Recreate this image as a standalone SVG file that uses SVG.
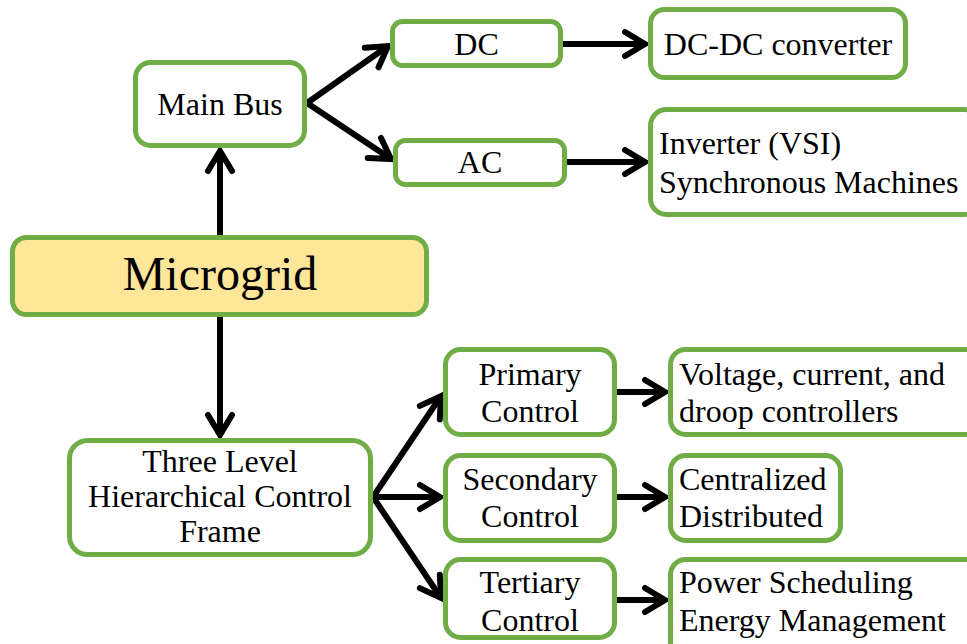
<svg xmlns="http://www.w3.org/2000/svg" width="967" height="644" viewBox="0 0 967 644">
<defs>
<style>
.box{fill:#ffffff;stroke:#70AD47;stroke-width:5}
.main{fill:#FFE699;stroke:#70AD47;stroke-width:5}
text{font-family:'Liberation Serif','Times New Roman',serif;font-size:32px;fill:#000}
.c{text-anchor:middle}
.conn{fill:none;stroke:#000;stroke-width:6;marker-end:url(#ah)}
</style>
<marker id="ah" markerUnits="userSpaceOnUse" markerWidth="40" markerHeight="40" refX="0" refY="0" viewBox="-30 -20 40 40" orient="auto" overflow="visible">
<path d="M-20,-12 L0,0 L-20,12" fill="none" stroke="#000" stroke-width="6" stroke-linecap="round" stroke-linejoin="miter"/>
</marker>
</defs>
<rect width="967" height="644" fill="#ffffff"/>
<g id="connectors">
<line class="conn" x1="220" y1="235" x2="220" y2="151"/>
<line class="conn" x1="220" y1="317" x2="220" y2="435"/>
<line class="conn" x1="307" y1="103" x2="388" y2="46"/>
<line class="conn" x1="307" y1="103" x2="391" y2="159"/>
<line class="conn" x1="563" y1="44" x2="645" y2="44"/>
<line class="conn" x1="567" y1="162" x2="645" y2="162"/>
<line class="conn" x1="373" y1="497" x2="441" y2="396"/>
<line class="conn" x1="373" y1="497" x2="440" y2="497"/>
<line class="conn" x1="373" y1="497" x2="441" y2="598"/>
<line class="conn" x1="617" y1="392" x2="665" y2="392"/>
<line class="conn" x1="617" y1="497" x2="665" y2="497"/>
<line class="conn" x1="617" y1="600" x2="665" y2="600"/>
</g>
<g id="mainbus"><rect class="box" x="135.5" y="62.5" width="169" height="83" rx="15"/><text class="c" x="220" y="115">Main Bus</text></g>
<g id="dc"><rect class="box" x="392.5" y="21.5" width="168" height="44" rx="10"/><text class="c" x="476.5" y="55">DC</text></g>
<g id="ac"><rect class="box" x="395.5" y="140.5" width="169" height="44" rx="10"/><text class="c" x="480" y="173">AC</text></g>
<g id="dcdc"><rect class="box" x="650.5" y="9.5" width="255" height="68" rx="14"/><text class="c" x="778" y="55">DC-DC converter</text></g>
<g id="inverter"><rect class="box" x="650.5" y="109.5" width="330" height="105" rx="16"/><text x="659" y="154">Inverter (VSI)</text><text x="659" y="193">Synchronous Machines</text></g>
<g id="microgrid"><rect class="main" x="12.5" y="237.5" width="414" height="77" rx="14"/><text class="c" x="220" y="290" style="font-size:48px">Microgrid</text></g>
<g id="threelevel"><rect class="box" x="69.5" y="440.5" width="301" height="114" rx="18"/><text class="c" x="220" y="472">Three Level</text><text class="c" x="220" y="507">Hierarchical Control</text><text class="c" x="220" y="542">Frame</text></g>
<g id="primary"><rect class="box" x="445.5" y="349.5" width="169" height="85" rx="15"/><text class="c" x="530" y="385">Primary</text><text class="c" x="530" y="422">Control</text></g>
<g id="secondary"><rect class="box" x="445.5" y="455.5" width="169" height="85" rx="15"/><text class="c" x="530" y="490">Secondary</text><text class="c" x="530" y="527">Control</text></g>
<g id="tertiary"><rect class="box" x="445.5" y="559.5" width="169" height="78" rx="15"/><text class="c" x="530" y="593">Tertiary</text><text class="c" x="530" y="631">Control</text></g>
<g id="voltage"><rect class="box" x="670.5" y="349.5" width="310" height="85" rx="15"/><text x="679" y="385">Voltage, current, and</text><text x="679" y="422">droop controllers</text></g>
<g id="centralized"><rect class="box" x="670.5" y="455.5" width="170" height="85" rx="15"/><text x="679" y="490">Centralized</text><text x="679" y="527">Distributed</text></g>
<g id="power"><rect class="box" x="670.5" y="559.5" width="310" height="100" rx="15"/><text x="679" y="593">Power Scheduling</text><text x="679" y="631">Energy Management</text></g>
</svg>
